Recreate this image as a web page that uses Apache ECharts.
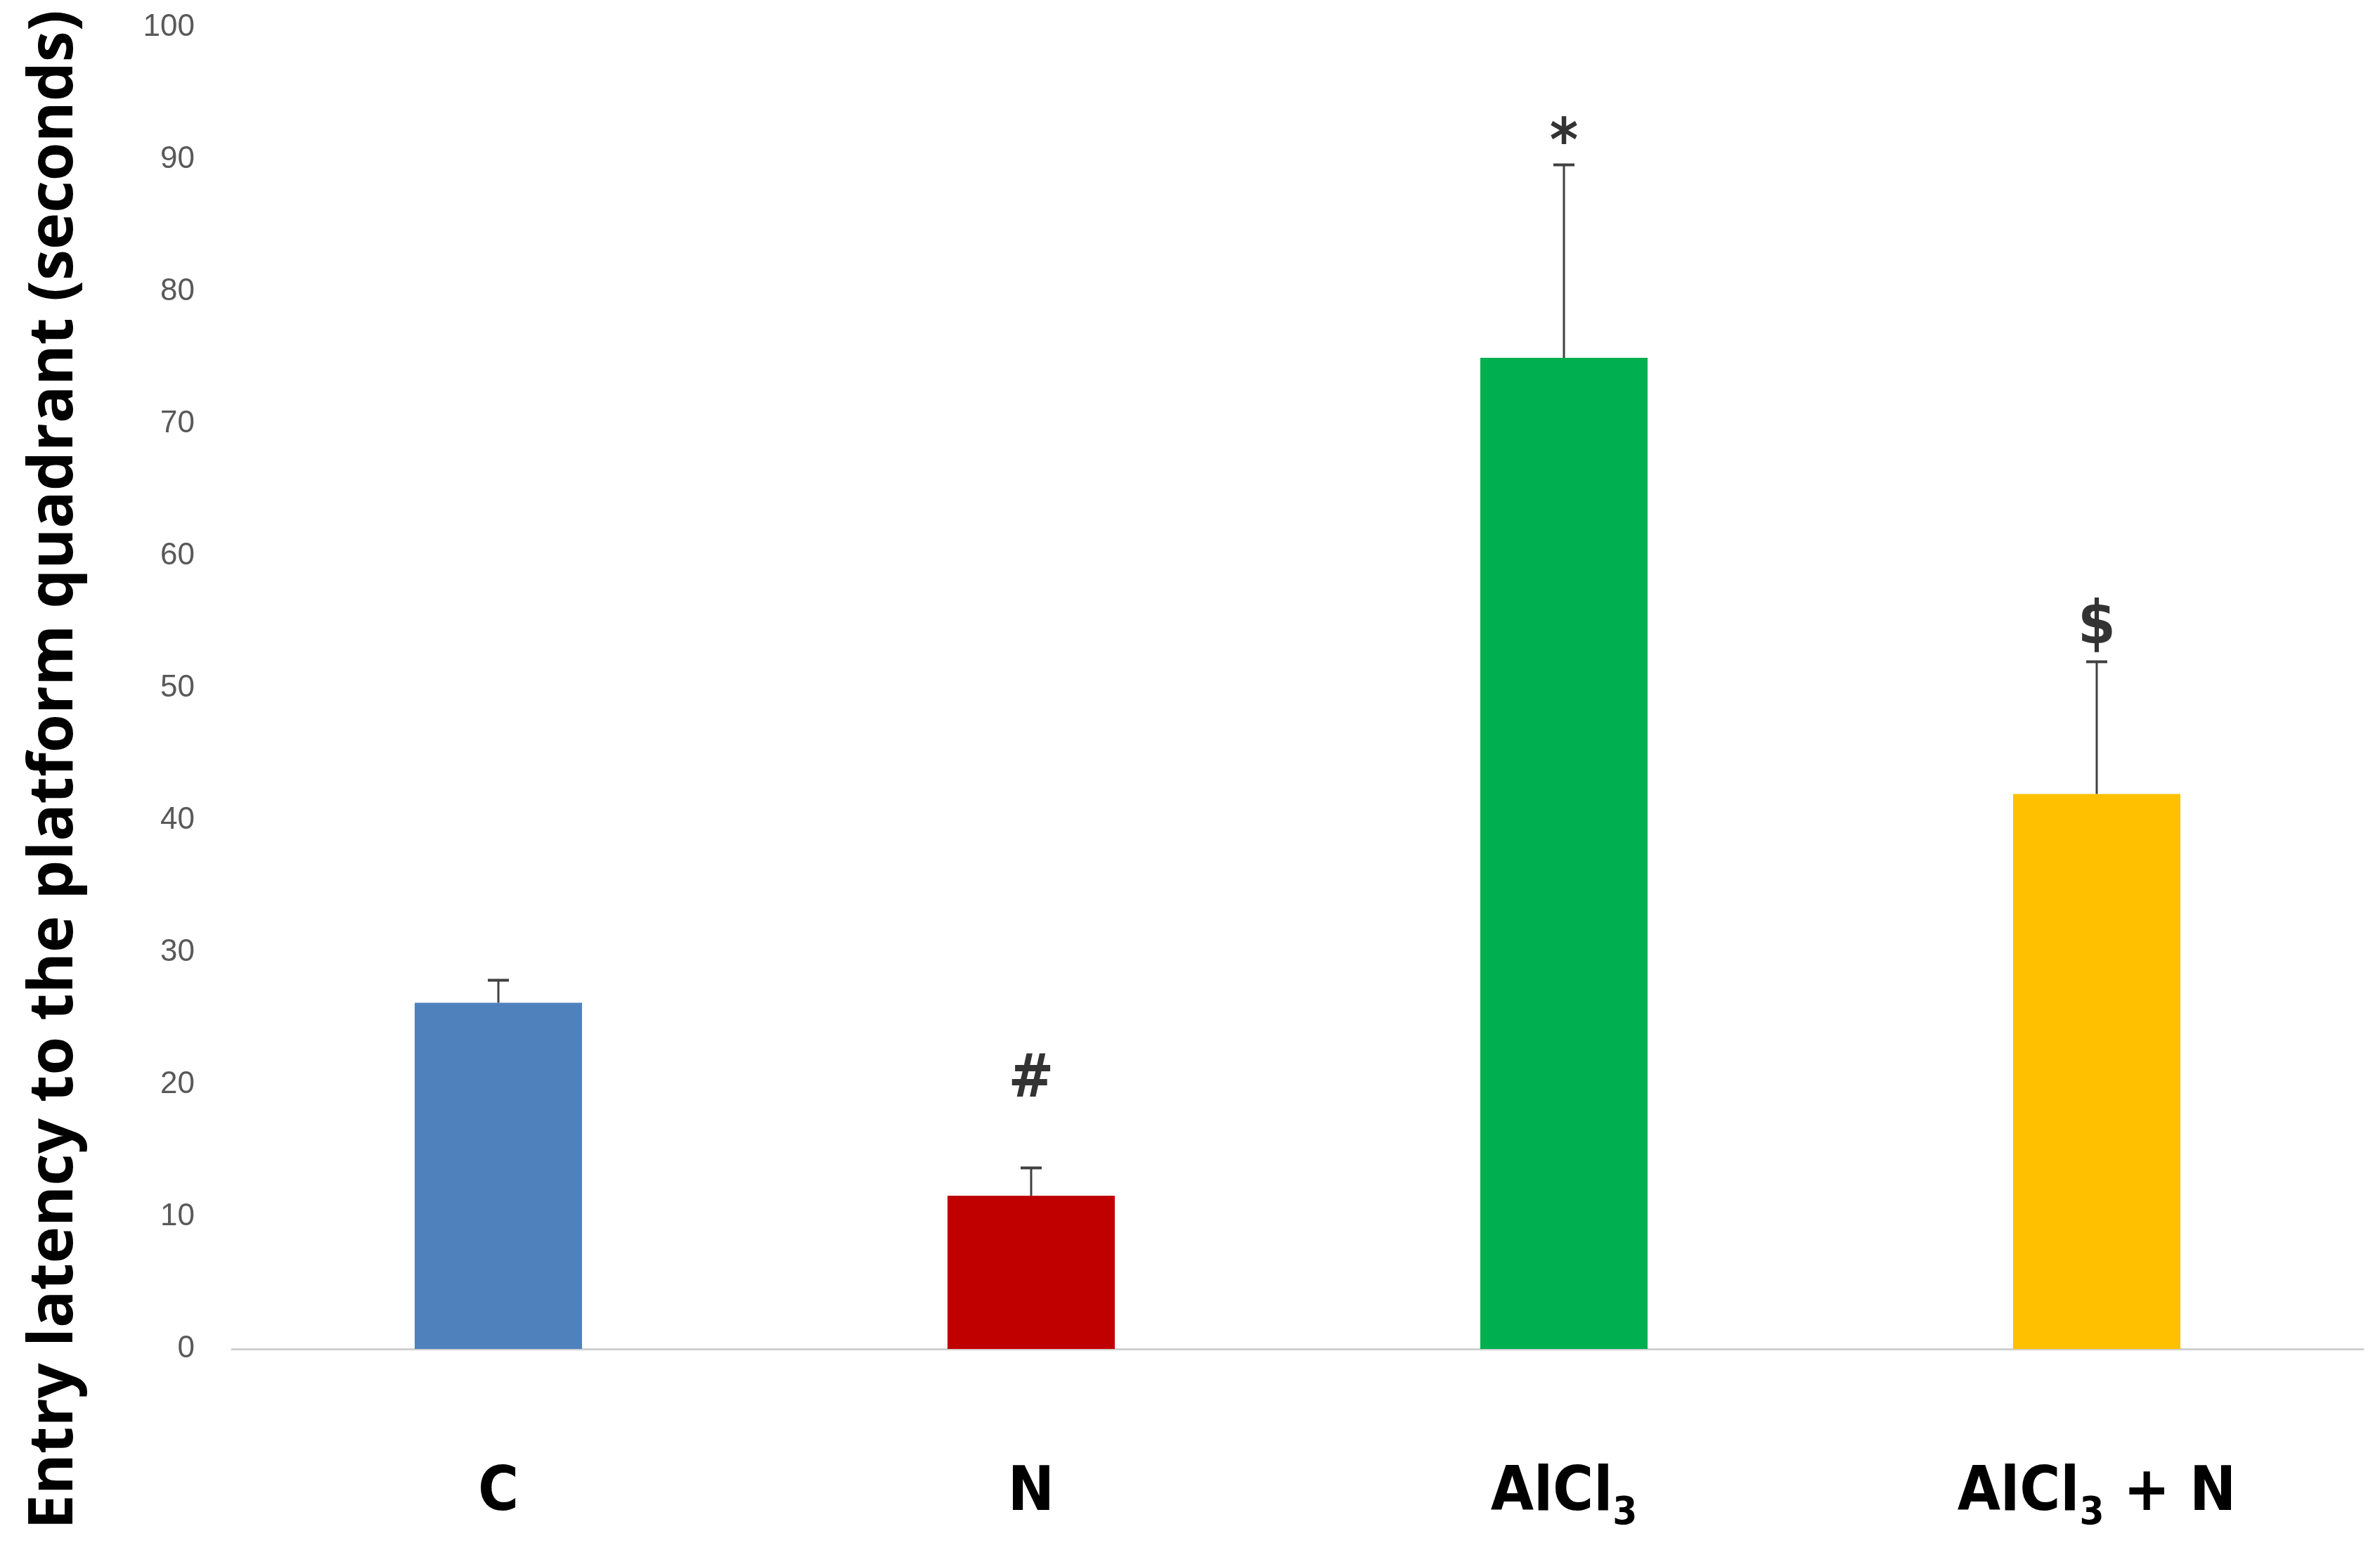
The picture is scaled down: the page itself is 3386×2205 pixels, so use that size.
<!DOCTYPE html>
<html>
<head>
    <meta charset="utf-8">
    <title>Entry latency</title>
    <script src="https://cdn.jsdelivr.net/npm/echarts@6/dist/echarts.min.js"></script>
    <style>
        html, body { margin: 0; padding: 0; background: #ffffff; }
        #chart { width: 3386px; height: 2205px; }
    </style>
</head>
<body>
    <div id="chart"></div>

    <script type="text/javascript">
        // values
        var groups = ['C', 'N', 'AlCl3', 'AlCl3 + N'];
        var means = [26.2, 11.6, 75.0, 42.0];
        var errTops = [27.9, 13.7, 89.6, 52.0];
        var barColors = ['#4f81bd', '#c00000', '#00b050', '#ffc000'];
        var sigMarks = ['', '#', '*', '$'];
        var sigPos = [null, 20.3, 91.1, 54.6];
        var yTicks = { min: 0, max: 100, step: 10 };

        var labelFont = '"Liberation Sans Narrow", "DejaVu Sans Condensed", "Liberation Sans", sans-serif';

        function richName(name) {
            // AlCl3 -> AlCl with a subscript 3
            if (name.indexOf('AlCl3') === 0) {
                var rest = name.slice(5);
                return '{n|AlCl}{s|3}' + (rest ? '{n|' + rest + '}' : '');
            }
            return '{n|' + name + '}';
        }

        var barData = means.map(function (v, i) {
            return { value: v, itemStyle: { color: barColors[i] } };
        });
        var errData = means.map(function (v, i) { return [i, v, errTops[i]]; });
        var sigData = [];
        for (var i = 0; i < sigMarks.length; i++) {
            if (sigMarks[i]) sigData.push({ value: [i, sigPos[i]], mark: sigMarks[i] });
        }

        var myChart = echarts.init(document.getElementById('chart'));
        var option = {
            backgroundColor: '#ffffff',
            animation: false,
            grid: { left: 330, right: 24, top: 39, bottom: 286 },
            xAxis: {
                type: 'category',
                data: groups,
                axisLine: { lineStyle: { color: '#d0d0d0', width: 3 } },
                axisTick: { show: false },
                axisLabel: {
                    margin: 150,
                    formatter: richName,
                    rich: {
                        n: { fontFamily: labelFont, fontWeight: 'bold', fontSize: 88, lineHeight: 112, color: '#000000' },
                        s: { fontFamily: labelFont, fontWeight: 'bold', fontSize: 56, lineHeight: 54, color: '#000000', verticalAlign: 'bottom' }
                    }
                }
            },
            yAxis: {
                type: 'value',
                min: yTicks.min,
                max: yTicks.max,
                interval: yTicks.step,
                axisLine: { show: false },
                axisTick: { show: false },
                splitLine: { show: false },
                axisLabel: {
                    margin: 53,
                    fontFamily: '"Liberation Sans", sans-serif',
                    fontSize: 44,
                    color: '#595959'
                }
            },
            graphic: [{
                type: 'text',
                x: 78,
                y: 1095,
                rotation: Math.PI / 2,
                style: {
                    text: 'Entry latency to the platform quadrant (seconds)',
                    fontFamily: '"Open Sans", sans-serif',
                    fontWeight: 'bold',
                    fontSize: 88.5,
                    fill: '#000000',
                    textAlign: 'center',
                    textVerticalAlign: 'middle'
                }
            }],
            series: [
                {
                    type: 'bar',
                    data: barData,
                    barWidth: 238
                },
                {
                    type: 'custom',
                    data: errData,
                    z: 5,
                    renderItem: function (params, api) {
                        var p0 = api.coord([api.value(0), api.value(1)]);
                        var p1 = api.coord([api.value(0), api.value(2)]);
                        var half = 15;
                        return {
                            type: 'group',
                            children: [
                                { type: 'line', shape: { x1: p0[0], y1: p0[1], x2: p1[0], y2: p1[1] },
                                  style: { stroke: '#404040', lineWidth: 3 } },
                                { type: 'line', shape: { x1: p1[0] - half, y1: p1[1], x2: p1[0] + half, y2: p1[1] },
                                  style: { stroke: '#404040', lineWidth: 4 } }
                            ]
                        };
                    }
                },
                {
                    type: 'scatter',
                    data: sigData,
                    symbolSize: 1,
                    z: 6,
                    itemStyle: { color: 'rgba(0,0,0,0)' },
                    label: {
                        show: true,
                        position: 'inside',
                        formatter: function (p) { return p.data.mark; },
                        fontFamily: labelFont,
                        fontWeight: 'bold',
                        fontSize: 86,
                        color: '#000000',
                        textBorderWidth: 0
                    }
                }
            ]
        };
        myChart.setOption(option);
    </script>
</body>
</html>
